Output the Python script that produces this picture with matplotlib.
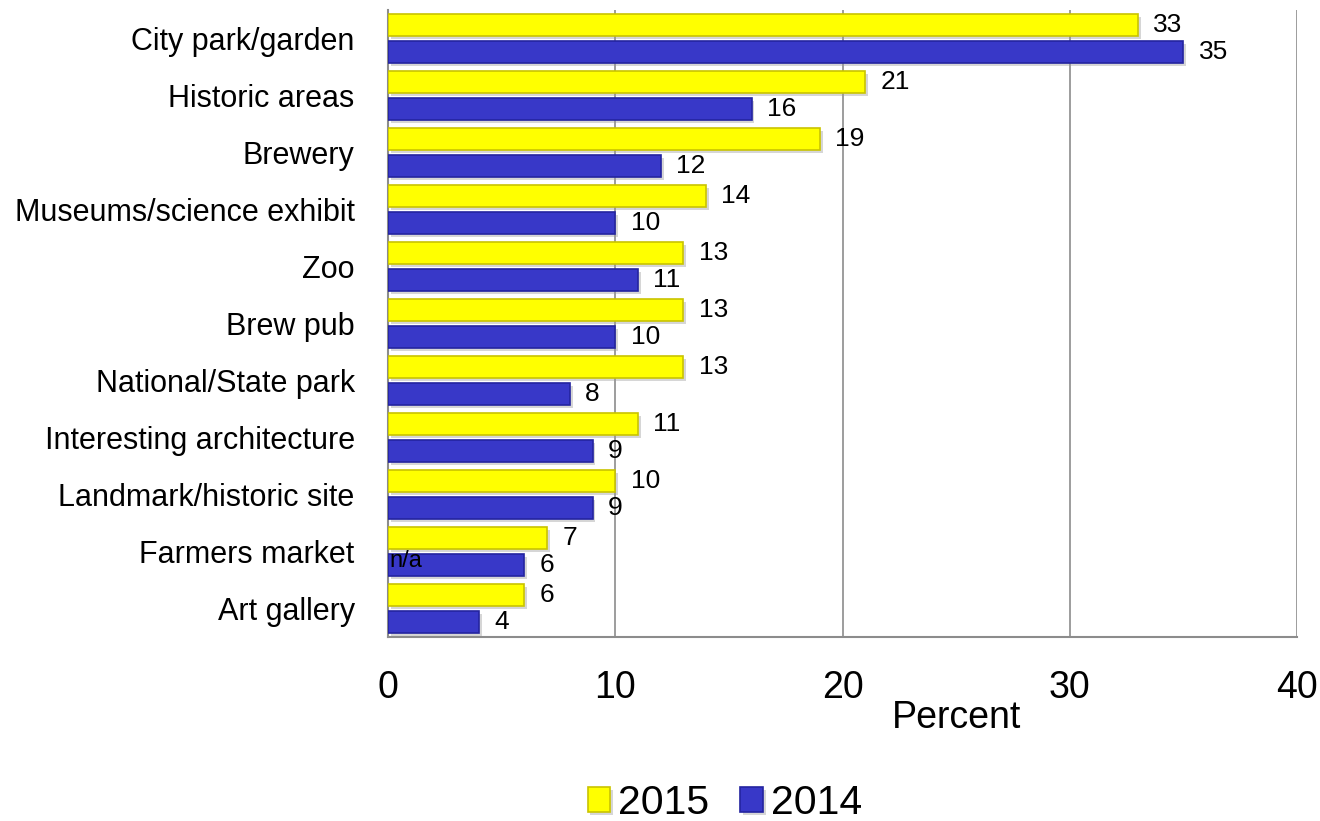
import matplotlib
matplotlib.use("Agg")
import matplotlib.pyplot as plt
import matplotlib.patheffects as pe
import numpy as np

categories = ["City park/garden", "Historic areas", "Brewery", "Museums/science exhibit",
              "Zoo", "Brew pub", "National/State park", "Interesting architecture",
              "Landmark/historic site", "Farmers market", "Art gallery"]
values_2015 = [33, 21, 19, 14, 13, 13, 13, 11, 10, 7, 6]
values_2014 = [35, 16, 12, 10, 11, 10, 8, 9, 9, 6, 4]
series_labels = ["2015", "2014"]
xticks = [0, 10, 20, 30, 40]

plt.rcParams["font.family"] = ["Liberation Sans", "DejaVu Sans"]

fig = plt.figure(figsize=(13.2, 8.21), dpi=100)
ax = fig.add_axes([0.294, 0.2241, 0.6886, 0.7637])

y = np.arange(len(categories))
h = 0.385
off = 0.233
yellow, yellow_edge = "#FFFF00", "#C9C400"
blue, blue_edge = "#3838C8", "#2424A0"
shadow = [pe.SimplePatchShadow(offset=(2, -2), shadow_rgbFace="#999999", alpha=0.4), pe.Normal()]

b15 = ax.barh(y - off, values_2015, height=h, color=yellow, edgecolor=yellow_edge,
              linewidth=1.2, zorder=3, label=series_labels[0])
b14 = ax.barh(y + off, values_2014, height=h, color=blue, edgecolor=blue_edge,
              linewidth=1.2, zorder=3, label=series_labels[1])
for bar in list(b15) + list(b14):
    bar.set_path_effects(shadow)

for yi, v in zip(y - off, values_2015):
    ax.annotate(str(v), (v, yi), xytext=(11, 0), textcoords="offset points",
                ha="left", va="center", fontsize=19, color="black", zorder=4)
for yi, v in zip(y + off, values_2014):
    ax.annotate(str(v), (v, yi), xytext=(11, 0), textcoords="offset points",
                ha="left", va="center", fontsize=19, color="black", zorder=4)

# No 2014 survey data for farmers markets
fm = categories.index("Farmers market")
ax.text(0.05, fm + off - 0.06, "n/a", ha="left", va="center", fontsize=17, color="black", zorder=5)

ax.set_xlim(0, 40)
ax.set_ylim(len(categories) - 0.5, -0.5)
ax.set_xticks(xticks)
ax.set_xticklabels([str(t) for t in xticks], fontsize=27)
ax.set_yticks(y)
ax.set_yticklabels(categories, fontsize=22)
ax.tick_params(axis="x", length=0, pad=24)
ax.tick_params(axis="y", length=0, pad=24)
ax.grid(axis="x", color="#8c8c8c", linewidth=1.2, zorder=0)
ax.set_axisbelow(True)
for s in ["top", "right"]:
    ax.spines[s].set_visible(False)
for s in ["left", "bottom"]:
    ax.spines[s].set_color("#8c8c8c")
    ax.spines[s].set_linewidth(1.5)

fig.text(957 / 1320, 1 - 718 / 821, "Percent", ha="center", va="center", fontsize=27)

leg = fig.legend(handles=[b15, b14], labels=series_labels, loc="center",
                 bbox_to_anchor=(725 / 1320, 1 - 803 / 821), ncol=2, frameon=False,
                 fontsize=29.5, handlelength=0.55, handleheight=0.55, handletextpad=0.2,
                 columnspacing=0.75)

fig.savefig("out.png", dpi=100)
